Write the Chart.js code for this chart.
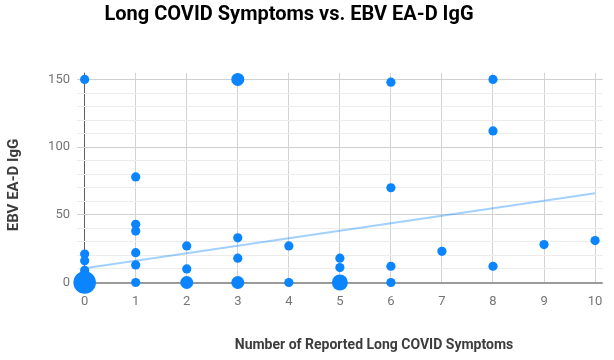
<!DOCTYPE html>
<html>
<head>
<meta charset="utf-8">
<script src="https://cdn.jsdelivr.net/npm/chart.js@4.4.1/dist/chart.umd.min.js"></script>
<style>
  html, body { margin: 0; padding: 0; background: #fff; }
  #wrap { width: 614px; height: 360px; }
</style>
</head>
<body>
<div id="wrap"><canvas id="c" width="614" height="360"></canvas></div>
<script>
// ---- Data ----
const chartTitle = "Long COVID Symptoms vs. EBV EA-D IgG";
const xAxisTitle = "Number of Reported Long COVID Symptoms";
const yAxisTitle = "EBV EA-D IgG";

// number of reported symptoms per observation
const symptoms = [0, 0, 0, 0, 0,
                  1, 1, 1, 1, 1, 1,
                  2, 2, 2,
                  3, 3, 3, 3,
                  4, 4,
                  5, 5, 5,
                  6, 6, 6, 6,
                  7,
                  8, 8, 8,
                  9,
                  10];
// EBV EA-D IgG values
const igg = [150, 21, 16, 9, 0,
             78, 43, 38, 22, 13, 0,
             27, 10, 0,
             150, 33, 18, 0,
             27, 0,
             18, 11, 0,
             148, 70, 12, 0,
             23,
             150, 112, 12,
             28,
             31];
// overlapping observations at each point (drives marker size)
const counts = [1, 1, 1, 1, 6,
                1, 1, 1, 1, 1, 1,
                1, 1, 2,
                2, 1, 1, 2,
                1, 1,
                1, 1, 3,
                1, 1, 1, 1,
                1,
                1, 1, 1,
                1,
                1];
// linear trendline endpoints
const trendX = [0, 10];
const trendY = [10.5, 66];

const xTicks = [0, 1, 2, 3, 4, 5, 6, 7, 8, 9, 10];
const yTicks = [0, 10, 20, 30, 40, 50, 60, 70, 80, 90, 100, 110, 120, 130, 140, 150];
const yLabelStep = 50;

// ---- Chart ----
const pointColor = '#0a84ff';
const trendColor = 'rgba(10,132,255,0.38)';

const textPlugin = {
  id: 'texts',
  afterDraw(chart) {
    const ctx = chart.ctx;
    ctx.save();
    ctx.textAlign = 'center';
    ctx.textBaseline = 'middle';
    ctx.fillStyle = '#000';
    ctx.font = 'bold 20px Roboto';
    ctx.fillText(chartTitle, 289, 15);
    ctx.fillStyle = '#3c3c3c';
    ctx.font = 'bold 14px Roboto';
    ctx.fillText(xAxisTitle, 374, 345);
    ctx.font = 'bold 15px Roboto';
    ctx.translate(14, 185);
    ctx.rotate(-Math.PI / 2);
    ctx.fillText(yAxisTitle, 0, 0);
    ctx.restore();
  }
};

new Chart(document.getElementById('c'), {
  type: 'scatter',
  data: {
    datasets: [
      {
        label: 'EBV EA-D IgG',
        data: symptoms.map((x, i) => ({ x: x, y: igg[i] })),
        backgroundColor: pointColor,
        borderWidth: 0,
        pointRadius: ctx => 4.6 * Math.sqrt(counts[ctx.dataIndex] || 1),
        pointHoverRadius: ctx => 4.6 * Math.sqrt(counts[ctx.dataIndex] || 1),
        clip: false,
        order: 1
      },
      {
        type: 'line',
        label: 'Trend',
        data: trendX.map((x, i) => ({ x: x, y: trendY[i] })),
        borderColor: trendColor,
        borderWidth: 2,
        pointRadius: 0,
        fill: false,
        order: 2
      }
    ]
  },
  options: {
    responsive: false,
    animation: false,
    layout: { padding: { top: 72.7, right: 11, left: 0, bottom: 0 } },
    plugins: {
      legend: { display: false },
      title: { display: false },
      tooltip: { enabled: false }
    },
    scales: {
      x: {
        type: 'linear',
        min: -0.15,
        max: 10.15,
        afterBuildTicks: s => { s.ticks = xTicks.map(v => ({ value: v })); },
        afterFit: s => { s.height = 77.5; },
        border: { display: false },
        grid: {
          drawTicks: false,
          lineWidth: 1,
          color: c => (c.tick && c.tick.value === 0) ? '#5f5f5f' : '#d3d3d3'
        },
        ticks: {
          autoSkip: false,
          maxRotation: 0,
          padding: 11,
          color: '#757575',
          font: { family: 'Roboto', size: 13 },
          callback: v => String(v)
        }
      },
      y: {
        type: 'linear',
        min: 0,
        max: 155,
        afterBuildTicks: s => { s.ticks = yTicks.map(v => ({ value: v })); },
        afterFit: s => { s.width = 77; },
        border: { display: false },
        grid: {
          drawTicks: false,
          lineWidth: c => (c.tick && c.tick.value === 0) ? 2 : 1,
          color: c => {
            const v = c.tick ? c.tick.value : 1;
            if (v === 0) return '#9a9a9a';
            return v % yLabelStep === 0 ? '#d0d0d0' : '#ececec';
          }
        },
        ticks: {
          autoSkip: false,
          padding: 7,
          color: '#757575',
          font: { family: 'Roboto', size: 13 },
          callback: v => (v % yLabelStep === 0 ? String(v) : '')
        }
      }
    }
  },
  plugins: [textPlugin]
});
</script>
</body>
</html>
